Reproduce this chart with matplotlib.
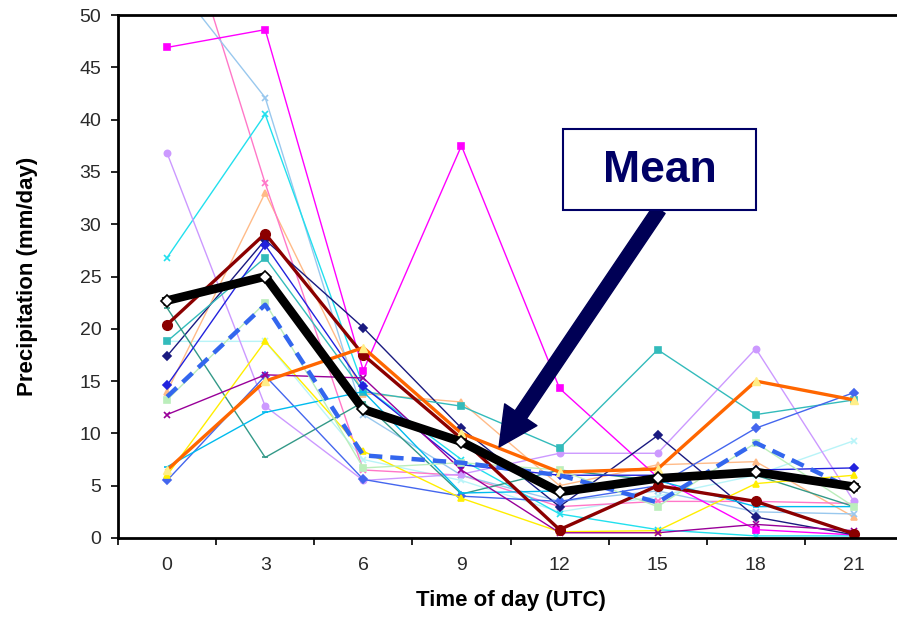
import numpy as np
import matplotlib
matplotlib.use("Agg")
import matplotlib.pyplot as plt
from matplotlib.patches import Rectangle

plt.rcParams['font.family'] = ['Liberation Sans', 'DejaVu Sans']

hours = [0, 3, 6, 9, 12, 15, 18, 21]

# individual cases (thin lines)
pale_cyan = [18.8, 18.8, 7.5, 5.5, 2.5, 4.0, 6.0, 9.3]
peach = [14.0, 33.0, 13.8, 13.0, 5.0, 7.0, 7.3, 2.0]
hot_pink = [64.0, 33.9, 6.5, 6.0, 3.0, 3.5, 3.5, 3.3]
steel_blue = [54.0, 42.1, 11.8, 6.0, 3.5, 4.5, 2.5, 2.3]
cyan = [26.8, 40.5, 14.5, 7.5, 2.3, 0.8, 0.2, 0.2]
lavender = [36.8, 12.6, 5.5, 6.1, 8.1, 8.1, 18.1, 3.5]
magenta = [46.9, 48.6, 16.0, 37.5, 14.3, 5.8, 0.8, 0.3]
navy = [17.4, 28.5, 20.1, 10.5, 3.0, 9.8, 2.0, 0.3]
seagreen = [18.8, 26.8, 14.0, 12.6, 8.6, 18.0, 11.8, 13.2]
teal = [22.0, 7.7, 13.0, 4.2, 6.5, 5.5, 6.0, 3.0]
blue = [14.6, 28.0, 14.5, 7.0, 6.0, 6.0, 6.5, 6.7]
royal = [5.5, 15.5, 5.6, 4.0, 3.5, 5.0, 10.5, 13.9]
sky = [6.8, 12.0, 14.0, 4.3, 4.5, 5.5, 3.0, 3.0]
yellow = [6.0, 18.8, 8.3, 3.8, 0.6, 0.7, 5.2, 6.0]
purple = [11.8, 15.6, 15.3, 6.5, 0.5, 0.5, 1.3, 0.7]
pale_green = [13.2, 22.5, 6.7, 7.2, 6.5, 3.0, 9.1, 3.0]
maroon = [20.4, 29.1, 17.5, 9.5, 0.8, 5.0, 3.5, 0.4]
orange = [6.5, 15.0, 18.2, 10.0, 6.3, 6.6, 15.0, 13.2]
dashed_blue = [13.5, 22.3, 7.9, 7.2, 6.0, 3.4, 9.1, 4.6]
mean = [22.7, 25.0, 12.3, 9.2, 4.4, 5.7, 6.3, 4.9]

thin = [
    (pale_cyan, '#b8f4f8', 'x'),
    (peach, '#ffbb88', '^'),
    (hot_pink, '#ff77c8', 'x'),
    (steel_blue, '#99c8ee', 'x'),
    (cyan, '#22e0ee', 'x'),
    (lavender, '#cc99ff', 'o'),
    (magenta, '#ff00ff', 's'),
    (navy, '#1a1a80', 'D'),
    (seagreen, '#33bbbb', 's'),
    (teal, '#339988', '_'),
    (blue, '#2222dd', 'D'),
    (royal, '#4466ee', 'D'),
    (sky, '#00bbee', '_'),
    (yellow, '#ffee00', '^'),
    (purple, '#990099', 'x'),
    (pale_green, '#bbeebb', 's'),
]

fig = plt.figure(figsize=(8.97, 6.17), dpi=100)
ax = fig.add_axes([118 / 897, 79 / 617, 785 / 897, 523 / 617])

for vals, col, mk in thin:
    ax.plot(hours, vals, color=col, lw=1.0, marker=mk, ms=4.5, mew=1.2)

ax.plot(hours, maroon, color='#8b0000', lw=2.4, marker='o', ms=7)
ax.plot(hours, orange, color='#ff6600', lw=2.4, marker='^', ms=6, mfc='#ffee88', mec='#ffee88')
ax.plot(hours, dashed_blue, color='#3366ee', lw=3.2, dashes=(3, 1.8))
ax.plot(hours, mean, color='black', lw=6.3, marker='D', ms=6.5, mfc='white', mec='black', mew=1.2)

ax.set_xlim(-1.5, 22.5)
ax.set_ylim(0, 50)
ax.set_xticks(hours)
ax.set_xticks(np.arange(-1.5, 23, 3), minor=True)
ax.tick_params(axis='x', which='major', length=0, labelsize=14, pad=14, labelcolor='#2a2a2a')
ax.tick_params(axis='x', which='minor', length=5, width=1.2, direction='out')
ax.set_yticks(np.arange(0, 51, 5))
ax.tick_params(axis='y', length=5, width=1.2, direction='out', labelsize=14, labelcolor='#2a2a2a', pad=7)
for s in ax.spines.values():
    s.set_linewidth(2)

ax.set_xlabel('Time of day (UTC)', fontsize=16, fontweight='bold', labelpad=11)
ax.set_ylabel('Precipitation (mm/day)', fontsize=16, fontweight='bold', labelpad=30)

# "Mean" callout
fig.add_artist(Rectangle((563 / 897, 1 - 210 / 617), 193 / 897, 81 / 617,
                         transform=fig.transFigure, facecolor='white',
                         edgecolor='#000066', lw=1.5, zorder=10))
fig.text(659.5 / 897, 1 - 170 / 617, 'Mean', fontsize=32, fontweight='bold',
         color='#000066', ha='center', va='center', zorder=11)
ax.annotate('', xy=(10.15, 8.7), xytext=(15.05, 31.4),
            arrowprops=dict(width=10, headwidth=28, headlength=28, color='#000055'),
            zorder=12)

fig.savefig('out.png', dpi=100)
